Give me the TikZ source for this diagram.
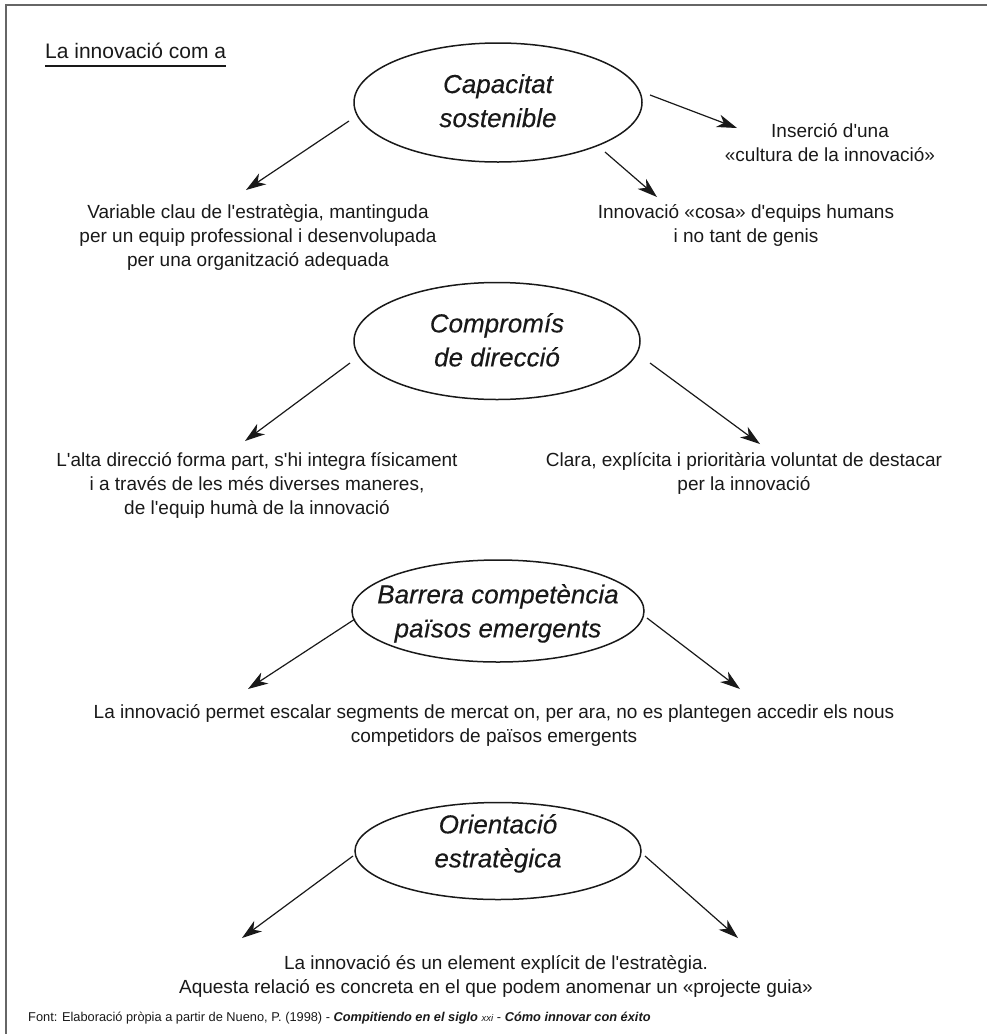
\documentclass[tikz,border=0pt]{standalone}
\usepackage{fontspec}
\setmainfont{Liberation Sans}[Ligatures=TeXOff]
\newfontfamily\bubblefont{Liberation Sans}[FakeBold=0.3,Ligatures=TeXOff]
\usetikzlibrary{shapes.geometric,arrows.meta}
\tikzset{
  frameline/.style={draw=black!60, line width=1.8pt},
  bubble/.style={ellipse, draw=black!90, line width=1.5pt, inner sep=0pt},
  bubbletext/.style={anchor=north, inner sep=0pt, align=center, text=black!90,
    font=\fontsize{26}{34}\selectfont\bubblefont\itshape},
  body/.style={anchor=north, inner sep=0pt, align=center, text=black!90,
    font=\fontsize{19}{24}\selectfont},
  arr/.style={line width=1.2pt, draw=black!90, -{Stealth[length=20pt,width=13pt,inset=6pt]}},
}
\begin{document}
\begin{tikzpicture}[x=1pt,y=-1pt]
\useasboundingbox (0,0) rectangle (987,1034);
% frame
\draw[frameline] (6,1034) -- (6,5) -- (987,5);
% title
\node[anchor=base west, inner sep=0pt, font=\fontsize{21}{24}\selectfont, text=black!90] (title) at (45,58) {La innovació com a};
\draw[line width=1.4pt, black!90] (title.west |- 0,66) -- (title.east |- 0,66);

% ellipse 1
\node[bubble, minimum width=288pt, minimum height=119pt] (e1) at (498,102.5) {};
\node[bubbletext] (t1) at (498,74) {Capacitat\\sostenible};
\node[body] (a3) at (830,123) {Inserció d'una\\«cultura de la innovació»};
\node[body] (a2) at (746,204) {Innovació «cosa» d'equips humans\\i no tant de genis};
\node[body] (a1) at (258,204) {Variable clau de l'estratègia, mantinguda\\per un equip professional i desenvolupada\\per una organització adequada};
\coordinate (e1r) at (650,95);   \coordinate (a3t) at (737,128);
\coordinate (e1d) at (605,152);  \coordinate (a2t) at (657,197);
\coordinate (e1l) at (349,121);  \coordinate (a1t) at (246,190);
\draw[arr] (e1r) -- (a3t);
\draw[arr] (e1d) -- (a2t);
\draw[arr] (e1l) -- (a1t);

% ellipse 2
\node[bubble, minimum width=286pt, minimum height=117pt] (e2) at (497,341) {};
\node[bubbletext] (t2) at (497,313) {Compromís\\de direcció};
\node[body] (b1) at (257,452) {L'alta direcció forma part, s'hi integra físicament\\i a través de les més diverses maneres,\\de l'equip humà de la innovació};
\node[body] (b2) at (744,452) {Clara, explícita i prioritària voluntat de destacar\\per la innovació};
\coordinate (e2l) at (350,363);  \coordinate (b1t) at (245,441);
\coordinate (e2r) at (650,363);  \coordinate (b2t) at (760,444);
\draw[arr] (e2l) -- (b1t);
\draw[arr] (e2r) -- (b2t);

% ellipse 3
\node[bubble, minimum width=292pt, minimum height=102pt] (e3) at (498,611) {};
\node[bubbletext] (t3) at (498,584) {Barrera competència\\països emergents};
\node[body] (c1) at (494,704) {La innovació permet escalar segments de mercat on, per ara, no es plantegen accedir els nous\\competidors de països emergents};
\coordinate (e3l) at (355,619);  \coordinate (c1l) at (248,689);
\coordinate (e3r) at (647,618);  \coordinate (c1r) at (740,689);
\draw[arr] (e3l) -- (c1l);
\draw[arr] (e3r) -- (c1r);

% ellipse 4
\node[bubble, minimum width=286pt, minimum height=97pt] (e4) at (498,851) {};
\node[bubbletext] (t4) at (498,814) {Orientació\\estratègica};
\node[body] (d1) at (496,955) {La innovació és un element explícit de l'estratègia.\\Aquesta relació es concreta en el que podem anomenar un «projecte guia»};
\coordinate (e4l) at (353,856);  \coordinate (d1l) at (242,938);
\coordinate (e4r) at (645,856);  \coordinate (d1r) at (738,938);
\draw[arr] (e4l) -- (d1l);
\draw[arr] (e4r) -- (d1r);

% footer
\node[anchor=base west, inner sep=0pt, font=\fontsize{12.8}{16}\selectfont, text=black!90] (foot) at (28,1021)
 {Font: Elaboració pròpia a partir de Nueno, P. (1998) - \textbf{\textit{Compitiendo en el siglo}} \textit{\fontsize{9.5}{12}\selectfont xxi} - \textbf{\textit{Cómo innovar con éxito}}};
\end{tikzpicture}
\end{document}
